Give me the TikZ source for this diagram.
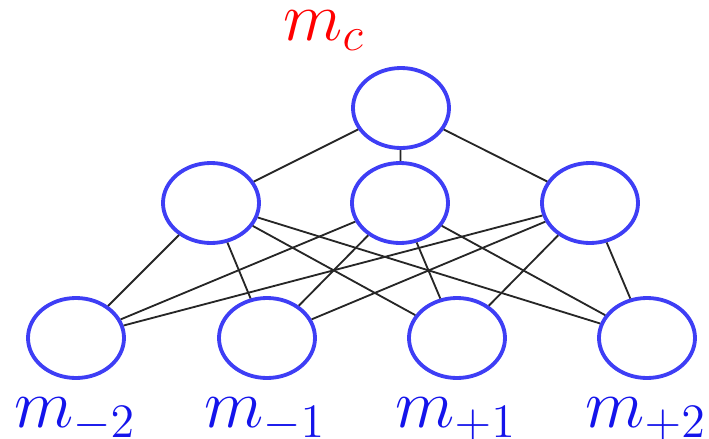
\documentclass[tikz,border=0pt]{standalone}
\usepackage{amsmath}
\usetikzlibrary{shapes.geometric}

\definecolor{unitblue}{RGB}{62,62,245}
\definecolor{labelblue}{RGB}{20,20,235}

\begin{document}
\begin{tikzpicture}[
    x=0.3pt, y=-0.3pt,
    unit/.style={ellipse, draw=unitblue, line width=1.15pt,
                 minimum width=28.8pt, minimum height=24pt, inner sep=0pt},
    link/.style={black!85, line width=0.55pt},
    lbl/.style={labelblue, anchor=base, inner sep=1pt,
                font=\fontsize{20.5}{24}\selectfont},
  ]

  % frame of the picture, in reference pixels
  \useasboundingbox (0,0) rectangle (709,439);

  % ------------------------------------------------------------------
  % units: one on top, three in the middle row, four at the bottom
  % ------------------------------------------------------------------
  \node[unit] (top) at (401,108) {};

  \node[unit] (h1) at (211,203) {};
  \node[unit] (h2) at (400,203) {};
  \node[unit] (h3) at (590,203) {};

  \node[unit] (b1) at (76,338) {};
  \node[unit] (b2) at (267,338) {};
  \node[unit] (b3) at (457,338) {};
  \node[unit] (b4) at (647,338) {};

  % ------------------------------------------------------------------
  % links: top to every middle unit, every middle unit to every bottom
  % ------------------------------------------------------------------
  \foreach \hh in {1,2,3} {
    \draw[link] (top) -- (h\hh);
    \foreach \bb in {1,2,3,4} {
      \draw[link] (h\hh) -- (b\bb);
    }
  }

  % labels
  \node[lbl, red] (lc) at (324,40) {$m_c$};
  \node[lbl] (l1) at (75,427) {$m_{-2}$};
  \node[lbl] (l2) at (265,427) {$m_{-1}$};
  \node[lbl] (l3) at (456,427) {$m_{+1}$};
  \node[lbl] (l4) at (646,427) {$m_{+2}$};

\end{tikzpicture}
\end{document}
